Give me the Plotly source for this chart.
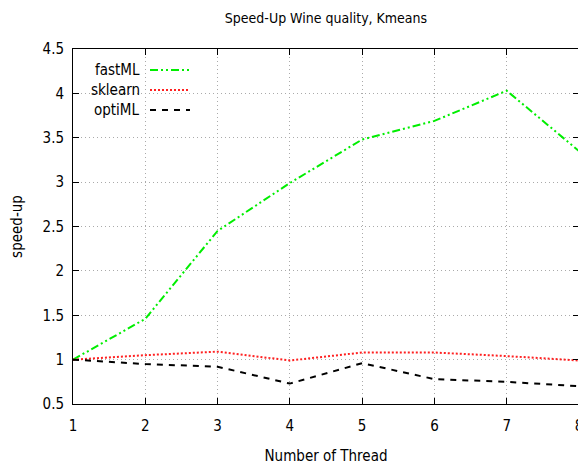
import plotly.graph_objects as go

threads = [1, 2, 3, 4, 5, 6, 7, 8]
fastml = [1.0, 1.46, 2.45, 2.99, 3.48, 3.69, 4.03, 3.35]
sklearn = [1.0, 1.05, 1.09, 0.99, 1.08, 1.08, 1.04, 0.99]
optiml = [1.0, 0.95, 0.92, 0.73, 0.96, 0.78, 0.75, 0.70]
yticks = [0.5, 1, 1.5, 2, 2.5, 3, 3.5, 4, 4.5]
yticklabels = ["0.5", "1", "1.5", "2", "2.5", "3", "3.5", "4", "4.5"]

FONT = "DejaVu Sans Condensed, DejaVu Sans, sans-serif"

series = [
    ("fastML", fastml, "#00ee00", "8px,3px,2px,3px,2px,3px"),
    ("sklearn", sklearn, "#ff2020", "2px,2px"),
    ("optiML", optiml, "#000000", "6px,6px"),
]

# page body has an 8px margin; figure is sized/margined to land the plot at the reference position
W, H = 578, 457
L, R, T, B = 65, 7, 41, 61
PW, PH = W - L - R, H - T - B

fig = go.Figure()
for name, vals, col, dash in series:
    fig.add_trace(go.Scatter(x=threads, y=vals, mode="lines", name=name,
                             line=dict(color=col, width=2, dash=dash),
                             showlegend=False))

# manual legend (gnuplot style: text then sample)
for i, (name, vals, col, dash) in enumerate(series):
    ypix = 70 + i * 20 - 49
    yfrac = 1 - ypix / PH
    fig.add_annotation(x=(142 - 73) / PW, y=yfrac, xref="paper", yref="paper",
                       text=name, showarrow=False, xanchor="right", yanchor="middle",
                       font=dict(family=FONT, size=15, color="#000"))
    fig.add_shape(type="line", xref="paper", yref="paper",
                  x0=(150 - 73) / PW, x1=(190 - 73) / PW, y0=yfrac, y1=yfrac,
                  line=dict(color=col, width=2, dash=dash))

axis_common = dict(showline=True, linecolor="#000", linewidth=1, mirror="ticks",
                   ticks="inside", ticklen=6, tickcolor="#000", automargin=False,
                   showgrid=True, gridcolor="#aaaaaa", griddash="1px,3px", gridwidth=1,
                   zeroline=False, tickfont=dict(family=FONT, size=15, color="#000"))

fig.update_xaxes(range=[1, 8], tickvals=threads, ticktext=[str(t) for t in threads],
                 ticklabelstandoff=8,
                 title=dict(text="Number of Thread", font=dict(family=FONT, size=15, color="#000"),
                            standoff=18),
                 **axis_common)
fig.update_yaxes(range=[0.5, 4.5], tickvals=yticks, ticktext=yticklabels,
                 ticklabelstandoff=5,
                 title=dict(text="speed-up", font=dict(family=FONT, size=15, color="#000"),
                            standoff=22),
                 **axis_common)

fig.update_layout(
    width=W, height=H,
    margin=dict(l=L, r=R, t=T, b=B, autoexpand=False),
    paper_bgcolor="white", plot_bgcolor="white",
    title=dict(text="Speed-Up Wine quality, Kmeans", x=(L + PW / 2) / W, xanchor="center",
               y=1 - 10 / H, yanchor="middle",
               font=dict(family=FONT, size=14, color="#000")),
)

fig.write_html("out.html")
